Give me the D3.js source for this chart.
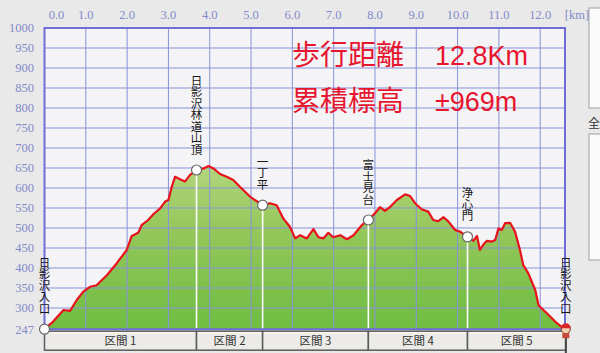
<!DOCTYPE html>
<html>
<head>
<meta charset="utf-8">
<script src="https://cdn.jsdelivr.net/npm/d3@7/dist/d3.min.js"></script>
<style>
  html, body { margin: 0; padding: 0; background: #e9e9e9; overflow: hidden; }
  #chart { width: 600px; height: 353px; }
</style>
</head>
<body>
<div id="chart"></div>
<script>
// profile (km from start, metres)
var distKm = [0, 0.21, 0.46, 0.62, 0.78, 0.94, 1.10, 1.26, 1.51, 1.75, 1.99, 2.11, 2.27, 2.35, 2.51,
  2.64, 2.80, 2.92, 3.00, 3.08, 3.16, 3.28, 3.40, 3.52, 3.68, 3.85, 3.97, 4.09, 4.25, 4.41,
  4.57, 4.73, 4.98, 5.28, 5.46, 5.62, 5.78, 5.94, 6.07, 6.19, 6.35, 6.51, 6.63, 6.75, 6.87,
  6.99, 7.16, 7.32, 7.48, 7.68, 7.84, 8.00, 8.12, 8.24, 8.37, 8.53, 8.73, 8.85, 8.97, 9.13,
  9.29, 9.41, 9.53, 9.66, 9.78, 9.94, 10.06, 10.24, 10.38, 10.47, 10.54, 10.62, 10.71, 10.83, 10.91,
  10.99, 11.07, 11.15, 11.27, 11.39, 11.51, 11.59, 11.71, 11.88, 11.96, 12.16, 12.36, 12.56, 12.62];
var elevM = [247, 266, 295, 293, 320, 341, 353, 357, 382, 412, 445, 480, 488, 507, 520,
  535, 549, 566, 570, 603, 628, 622, 616, 632, 645, 649, 655, 649, 635, 628,
  620, 603, 578, 557, 562, 557, 524, 503, 474, 482, 474, 497, 477, 474, 488,
  477, 482, 472, 482, 507, 520, 537, 552, 543, 553, 570, 584, 580, 562, 547,
  541, 520, 517, 527, 516, 495, 491, 478, 468, 480, 445, 458, 468, 466, 470,
  499, 495, 512, 513, 491, 445, 407, 387, 345, 307, 287, 266, 249, 247];

// waypoints
var pointNames = ["日影沢入口", "日影沢林道山頂", "一丁平", "富士見台", "浄心門", "日影沢入口"];
var pointKm = [0, 3.68, 5.28, 7.84, 10.24, 12.62];
var pointElev = [247, 645, 557, 520, 478, 247];

var sectionNames = ["区間 1", "区間 2", "区間 3", "区間 4", "区間 5"];

var xTicks = [0, 1, 2, 3, 4, 5, 6, 7, 8, 9, 10, 11, 12];
var yTicks = [247, 300, 350, 400, 450, 500, 550, 600, 650, 700, 750, 800, 850, 900, 950, 1000];
var xUnit = "[km]";

var summaryLabels = ["歩行距離", "累積標高"];
var summaryValues = ["12.8Km", "±969m"];

function ElevationProfile(params) {
  var attrs = {
    container: '#chart',
    width: 600,
    height: 353,
    margin: { top: 28, left: 44.5, right: 35, bottom: 23.8 },
    xMax: 12.6,
    yMin: 247,
    yMax: 1000,
    gridColor: '#8791da',
    frameColor: '#6e6ed8',
    tickColor: '#8389c9',
    lineColor: '#e8121c',
    titleColor: '#e6162e',
    cjk: '"Noto Sans CJK JP", sans-serif'
  };
  attrs = Object.assign(attrs, params);

  var svg, chart;

  function main() {
    var left = attrs.margin.left,
      right = attrs.width - attrs.margin.right,
      top = attrs.margin.top,
      bottom = attrs.height - attrs.margin.bottom;

    var x = d3.scaleLinear().domain([0, attrs.xMax]).range([left, right]);
    var y = d3.scaleLinear().domain([attrs.yMin, attrs.yMax]).range([bottom, top]);

    svg = d3.select(attrs.container).append('svg')
      .attr('width', attrs.width)
      .attr('height', attrs.height)
      .style('display', 'block');

    var defs = svg.append('defs');
    var grad = defs.append('linearGradient')
      .attr('id', 'greenFill')
      .attr('x1', 0).attr('y1', 0).attr('x2', 0).attr('y2', 1);
    grad.append('stop').attr('offset', '0%').attr('stop-color', '#b2d67c');
    grad.append('stop').attr('offset', '40%').attr('stop-color', '#94c75a');
    grad.append('stop').attr('offset', '100%').attr('stop-color', '#6fbd42');

    // right-hand panel scrap
    svg.append('rect').attr('x', 589).attr('y', 8).attr('width', 14).attr('height', 100)
      .attr('fill', '#fbfbfb').attr('stroke', '#a0a0a0');
    svg.append('text').attr('x', 588).attr('y', 128).text('全')
      .attr('font-family', attrs.cjk).attr('font-size', 12).attr('fill', '#333');
    svg.append('rect').attr('x', 589).attr('y', 134).attr('width', 14).attr('height', 126)
      .attr('fill', '#fbfbfb').attr('stroke', '#a0a0a0');

    chart = svg.append('g').attr('class', 'chart');

    // plot background
    chart.append('rect')
      .attr('x', left).attr('y', top)
      .attr('width', right - left).attr('height', bottom - top)
      .attr('fill', '#f4f4f7');

    var profile = distKm.map(function (d, i) { return { km: d, m: elevM[i] }; });

    chart.append('path')
      .datum(profile)
      .attr('fill', 'url(#greenFill)')
      .attr('d', d3.area()
        .x(function (d) { return x(d.km); })
        .y0(y(attrs.yMin))
        .y1(function (d) { return y(d.m); }));

    // grid
    chart.append('g').selectAll('line')
      .data(xTicks.slice(1))
      .join('line')
      .attr('x1', function (d) { return x(d); }).attr('x2', function (d) { return x(d); })
      .attr('y1', top).attr('y2', bottom)
      .attr('stroke', attrs.gridColor).attr('stroke-width', 1);

    chart.append('g').selectAll('line')
      .data(yTicks.slice(1, -1))
      .join('line')
      .attr('x1', left).attr('x2', right)
      .attr('y1', function (d) { return y(d); }).attr('y2', function (d) { return y(d); })
      .attr('stroke', attrs.gridColor).attr('stroke-width', 1);

    var points = pointNames.map(function (d, i) {
      return { name: d, km: pointKm[i], m: pointElev[i], i: i };
    });

    // white drop lines from waypoints
    chart.append('g').selectAll('line')
      .data(points.slice(1, -1))
      .join('line')
      .attr('x1', function (d) { return x(d.km); }).attr('x2', function (d) { return x(d.km); })
      .attr('y1', function (d) { return y(d.m); }).attr('y2', bottom)
      .attr('stroke', '#ffffff').attr('stroke-width', 1.6);

    // profile line
    chart.append('path')
      .datum(profile)
      .attr('fill', 'none')
      .attr('stroke', attrs.lineColor)
      .attr('stroke-width', 2.2)
      .attr('stroke-linejoin', 'round')
      .attr('d', d3.line()
        .x(function (d) { return x(d.km); })
        .y(function (d) { return y(d.m); }));

    // frame
    chart.append('rect')
      .attr('x', left).attr('y', top)
      .attr('width', right - left).attr('height', bottom - top)
      .attr('fill', 'none')
      .attr('stroke', attrs.frameColor).attr('stroke-width', 2);

    // axis labels
    chart.append('g').selectAll('text')
      .data(xTicks)
      .join('text')
      .attr('x', function (d) { return x(d) + (d === 0 ? 12 : 0); })
      .attr('y', 19)
      .attr('text-anchor', 'middle')
      .attr('font-family', '"Liberation Serif", serif')
      .attr('font-size', 12.5)
      .attr('fill', attrs.tickColor)
      .text(function (d) { return d.toFixed(1); });

    chart.append('text')
      .attr('x', right + 12).attr('y', 19)
      .attr('text-anchor', 'middle')
      .attr('font-family', '"Liberation Serif", serif')
      .attr('font-size', 12.5)
      .attr('fill', attrs.tickColor)
      .text(xUnit);

    chart.append('g').selectAll('text')
      .data(yTicks)
      .join('text')
      .attr('x', 34)
      .attr('y', function (d) { return y(d); })
      .attr('dy', '0.35em')
      .attr('text-anchor', 'end')
      .attr('font-family', '"Liberation Serif", serif')
      .attr('font-size', 12.5)
      .attr('fill', attrs.tickColor)
      .text(function (d) { return d; });

    // section bar
    var sections = sectionNames.map(function (d, i) {
      return { name: d, from: pointKm[i], to: pointKm[i + 1] };
    });
    var sec = chart.append('g').selectAll('g')
      .data(sections)
      .join('g');
    sec.append('rect')
      .attr('x', function (d) { return x(d.from); })
      .attr('y', bottom + 2)
      .attr('width', function (d) { return x(d.to) - x(d.from); })
      .attr('height', 19)
      .attr('fill', '#ecebe7')
      .attr('stroke', '#5c5c5c')
      .attr('stroke-width', 1.5);
    sec.append('line')
      .attr('x1', function (d) { return x(d.from) + 1.5; })
      .attr('x2', function (d) { return x(d.to) - 1.5; })
      .attr('y1', bottom + 3.5).attr('y2', bottom + 3.5)
      .attr('stroke', '#ffffff');
    sec.append('text')
      .attr('x', function (d) { return (x(d.from) + x(d.to)) / 2; })
      .attr('y', bottom + 12)
      .attr('dy', '0.35em')
      .attr('text-anchor', 'middle')
      .attr('font-family', attrs.cjk)
      .attr('font-size', 11.5)
      .attr('fill', '#333')
      .text(function (d) { return d.name; });

    // waypoint markers
    chart.append('g').selectAll('circle')
      .data(points.slice(0, -1))
      .join('circle')
      .attr('cx', function (d) { return x(d.km); })
      .attr('cy', function (d) { return y(d.m); })
      .attr('r', 5)
      .attr('fill', '#ffffff')
      .attr('stroke', '#6a6a6a')
      .attr('stroke-width', 1.2);

    // little hiker at the finish
    var end = points[points.length - 1];
    var hiker = chart.append('g')
      .attr('transform', 'translate(' + x(end.km) + ',' + y(end.m) + ')');
    hiker.append('line').attr('x1', 0).attr('x2', 0).attr('y1', 0).attr('y2', 24)
      .attr('stroke', '#444').attr('stroke-width', 2);
    hiker.append('circle').attr('r', 4.5).attr('fill', '#f2d2b0').attr('stroke', '#7a3a2a');
    hiker.append('path').attr('d', 'M-5,-1 A5,5 0 0 1 5,-1 Z').attr('fill', '#d8262a');
    hiker.append('rect').attr('x', -3.5).attr('y', 4).attr('width', 7).attr('height', 5)
      .attr('fill', '#c84a3a');

    // vertical waypoint names
    chart.append('g').selectAll('text')
      .data(points)
      .join('text')
      .attr('x', function (d) { return x(d.km); })
      .attr('y', function (d) { return y(d.m) - 15; })
      .attr('text-anchor', 'end')
      .style('writing-mode', 'vertical-rl')
      .attr('font-family', attrs.cjk)
      .attr('font-size', 11.5)
      .attr('fill', '#161616')
      .text(function (d) { return d.name; });

    // summary
    var sum = chart.append('g').selectAll('g')
      .data(summaryLabels)
      .join('g')
      .attr('transform', function (d, i) { return 'translate(0,' + (65 + i * 46) + ')'; });
    sum.append('text')
      .attr('x', 292)
      .attr('font-family', attrs.cjk)
      .attr('font-size', 28)
      .attr('fill', attrs.titleColor)
      .text(function (d) { return d; });
    sum.append('text')
      .attr('x', 435)
      .attr('font-family', '"Liberation Sans", Arial, sans-serif')
      .attr('font-size', 27)
      .attr('fill', attrs.titleColor)
      .text(function (d, i) { return summaryValues[i]; });
  }

  main.render = function () {
    main();
    return main;
  };

  return main;
}

ElevationProfile({ container: '#chart' }).render();
</script>
</body>
</html>
